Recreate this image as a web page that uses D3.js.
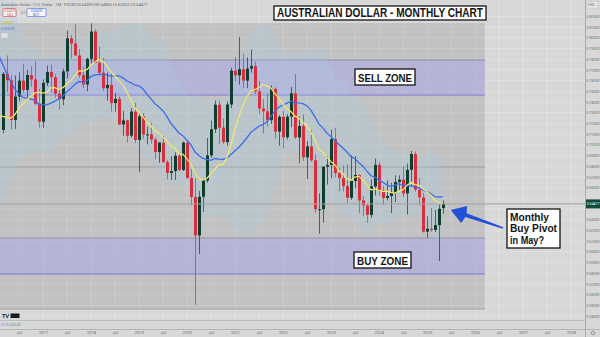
<!DOCTYPE html>
<html>
<head>
<meta charset="utf-8">
<script src="https://cdn.jsdelivr.net/npm/d3@7"></script>
<style>
  html, body { margin: 0; padding: 0; background: #d8d8d8; }
  svg { display: block; font-family: "Open Sans", sans-serif; }
</style>
</head>
<body>
<div id="chart"></div>
<script>
// AUD/USD monthly candles, Mar 2016 .. May 2025
const firstMonth = '2016-03';
const opens = [
  .7139,.7663,.7603,.7232,.7451,.7600,.7513,.7652,.7611,.7383,
  .7216,.7578,.7680,.7632,.7478,.7426,.7686,.7995,.7947,.7835,.7652,.7564,
  .7803,.8058,.7766,.7674,.7529,.7560,.7390,.7430,.7190,.7228,.7085,.7310,
  .7045,.7267,.7096,.7098,.7050,.6932,.7021,.6838,.6737,.6754,.6898,.6764,
  .7021,.6690,.6512,.6153,.6514,.6667,.6901,.7146,.7375,.7160,.7025,.7377,
  .7693,.7649,.7707,.7600,.7712,.7735,.7500,.7340,.7313,.7230,.7523,.7123,
  .7262,.7071,.7263,.7482,.7069,.7176,.6883,.6985,.6855,.6398,.6398,.6795,
  .6812,.7053,.6735,.6689,.6614,.6505,.6662,.6718,.6481,.6433,.6345,.6611,
  .6812,.6571,.6503,.6521,.6548,.6653,.6674,.6545,.6766,.6914,.6581,.6509,
  .6188,.6215,.6205,.6249,.6409
];
const highs = [
  .7681,.7835,.7651,.7648,.7677,.7758,.7700,.7734,.7778,.7523,
  .7612,.7741,.7749,.7660,.7517,.7712,.8066,.8028,.8125,.7897,.7730,.7814,
  .8136,.8077,.7917,.7813,.7676,.7678,.7484,.7453,.7316,.7236,.7342,.7393,
  .7296,.7296,.7169,.7207,.7069,.7024,.7082,.6862,.6895,.6930,.6929,.7032,
  .7031,.6774,.6686,.6570,.6683,.7064,.7226,.7414,.7413,.7243,.7405,.7720,
  .7820,.8007,.7849,.7818,.7891,.7776,.7599,.7427,.7478,.7556,.7536,.7277,
  .7314,.7285,.7540,.7661,.7266,.7283,.7034,.7137,.6916,.6547,.6800,.6893,
  .7142,.7158,.6783,.6806,.6818,.6900,.6895,.6724,.6522,.6445,.6676,.6871,
  .6838,.6615,.6667,.6645,.6714,.6714,.6798,.6824,.6942,.6937,.6688,.6549,
  .6331,.6409,.6391,.6439,.6481
];
const lows = [
  .7106,.7490,.7145,.7148,.7404,.7487,.7441,.7544,.7370,.7160,
  .7160,.7550,.7491,.7441,.7329,.7371,.7620,.7808,.7829,.7625,.7533,.7500,
  .7761,.7760,.7644,.7502,.7412,.7311,.7310,.7186,.7085,.7020,.7064,.7016,
  .6744,.7055,.7003,.7011,.6865,.6832,.6832,.6677,.6671,.6671,.6755,.6755,
  .6683,.6434,.5506,.5980,.6372,.6648,.6880,.7111,.7006,.7006,.6991,.7343,
  .7592,.7563,.7531,.7530,.7675,.7477,.7289,.7106,.7170,.7194,.7062,.6993,
  .6968,.7050,.7165,.7055,.6829,.6850,.6681,.6840,.6364,.6170,.6272,.6629,
  .6688,.6697,.6564,.6564,.6458,.6485,.6595,.6364,.6331,.6270,.6319,.6526,
  .6525,.6442,.6478,.6362,.6465,.6575,.6512,.6349,.6622,.6562,.6434,.6180,
  .6130,.6187,.6186,.5914,.6355
];
const closes = [
  .7663,.7603,.7232,.7451,.7600,.7513,.7652,.7611,.7383,.7216,
  .7578,.7680,.7632,.7478,.7426,.7686,.7995,.7947,.7835,.7652,.7564,.7803,
  .8058,.7766,.7674,.7529,.7560,.7390,.7430,.7190,.7228,.7085,.7310,.7045,
  .7267,.7096,.7098,.7050,.6932,.7021,.6838,.6737,.6754,.6898,.6764,.7021,
  .6690,.6512,.6153,.6514,.6667,.6901,.7146,.7375,.7160,.7025,.7377,.7693,
  .7649,.7707,.7600,.7712,.7735,.7500,.7340,.7313,.7230,.7523,.7123,.7262,
  .7071,.7263,.7482,.7069,.7176,.6883,.6985,.6855,.6398,.6398,.6795,.6812,
  .7053,.6735,.6689,.6614,.6505,.6662,.6718,.6481,.6433,.6345,.6611,.6812,
  .6571,.6503,.6521,.6548,.6653,.6674,.6545,.6766,.6914,.6581,.6509,.6188,
  .6215,.6205,.6249,.6402,.6448
];
// closes Jul 2014 .. Feb 2016, only used to warm up the averages
const priorCloses = [
  .9290,.9335,.8746,.8793,.8508,.8185,.7774,.7813,.7613,.7931,
  .7654,.7710,.7306,.7108,.7018,.7132,.7233,.7286,.7068,.7139
];

// drawn levels
const sellZone = [0.7465, 0.7793];
const buyZone = [0.5793, 0.6129];
const grayBox = [0.5465, 0.8138];
const levelLine = 0.6793;
const lastPrice = 0.64477;
const priceTicks = d3.range(54, 83).map(v => v / 100);

const W = 600, H = 337;
const paneR = 585, paneB = 320, axisT = 329;

const svg = d3.select('#chart').append('svg').attr('width', W).attr('height', H);

const parseMonth = d3.utcParse('%Y-%m');
const start = parseMonth(firstMonth);
const candles = opens.map((o, i) => ({
  date: d3.utcMonth.offset(start, i), o: o, h: highs[i], l: lows[i], c: closes[i]
}));

const x = d3.scaleUtc()
  .domain([parseMonth('2017-01'), parseMonth('2028-01')])
  .range([43, 571]);
const y = d3.scaleLinear().domain([0.54, 0.82]).range([316, 16.4]);

// backgrounds
svg.append('rect').attr('width', W).attr('height', H).attr('fill', '#d8d8d8');
svg.append('clipPath').attr('id', 'pane').append('rect').attr('width', paneR).attr('height', paneB);

const pane = svg.append('g').attr('clip-path', 'url(#pane)');

// grid
const timeTicks = d3.utcMonth.every(6).range(parseMonth('2016-07'), parseMonth('2028-02'));
pane.selectAll('.vgrid').data(timeTicks).enter().append('line')
  .attr('x1', d => x(d)).attr('x2', d => x(d)).attr('y1', 0).attr('y2', paneB)
  .attr('stroke', '#ffffff').attr('stroke-opacity', 0.22);
pane.selectAll('.hgrid').data(priceTicks).enter().append('line')
  .attr('x1', 0).attr('x2', paneR).attr('y1', d => y(d)).attr('y2', d => y(d))
  .attr('stroke', '#ffffff').attr('stroke-opacity', 0.22);

// gray highlight box and zones
const boxRight = x(parseMonth('2026-03')) + 2;
pane.append('rect').attr('x', -2).attr('y', y(grayBox[1])).attr('width', boxRight + 2)
  .attr('height', y(grayBox[0]) - y(grayBox[1])).attr('fill', '#6e6e6e').attr('fill-opacity', 0.2);
pane.append('line').attr('x1', 0).attr('x2', boxRight).attr('y1', y(grayBox[0])).attr('y2', y(grayBox[0]))
  .attr('stroke', '#a2a2a2').attr('stroke-width', 1);

[sellZone, buyZone].forEach(function(z, k) {
  pane.append('rect').attr('x', -2).attr('y', y(z[1])).attr('width', boxRight + 2)
    .attr('height', y(z[0]) - y(z[1])).attr('fill', '#a9a4f0').attr('fill-opacity', 0.45);
  pane.append('line').attr('x1', 0).attr('x2', boxRight).attr('y1', y(z[1])).attr('y2', y(z[1]))
    .attr('stroke', k === 0 ? '#8d8ba6' : '#9896a8').attr('stroke-width', 1);
  pane.append('line').attr('x1', 0).attr('x2', boxRight).attr('y1', y(z[0])).attr('y2', y(z[0]))
    .attr('stroke', '#7d79d6').attr('stroke-width', 1);
});

pane.append('line').attr('x1', 0).attr('x2', boxRight).attr('y1', y(levelLine)).attr('y2', y(levelLine))
  .attr('stroke', '#9a9a9a').attr('stroke-width', 1);

// moving averages and bands from the closes
const allCloses = priorCloses.concat(closes);
const off = priorCloses.length;
function windowAt(n, i) { return allCloses.slice(i - n + 1, i + 1); }
const ind = d3.range(off - 1, allCloses.length).map(function(i) {
  const w20 = windowAt(20, i), m20 = d3.mean(w20);
  const sd = Math.sqrt(d3.mean(w20, v => (v - m20) * (v - m20)));
  return {
    date: d3.utcMonth.offset(start, i - off),
    ma10: d3.mean(windowAt(10, i)), ma20: m20,
    up: m20 + 2 * sd, lo: m20 - 2 * sd
  };
});

pane.append('path').datum(ind)
  .attr('d', d3.area().x(d => x(d.date)).y0(d => y(d.lo)).y1(d => y(d.up)))
  .attr('fill', '#a8cbe6').attr('fill-opacity', 0.26);

// price line
svg.append('line').attr('x1', 0).attr('x2', paneR).attr('y1', y(lastPrice)).attr('y2', y(lastPrice))
  .attr('stroke', '#a3a3a3').attr('stroke-width', 1);

// candles
const green = '#0f3d2e', red = '#d62f3f';
const cg = pane.selectAll('.candle').data(candles).enter().append('g');
cg.append('line')
  .attr('x1', d => Math.round(x(d.date)) + 0.5).attr('x2', d => Math.round(x(d.date)) + 0.5)
  .attr('y1', d => y(d.h)).attr('y2', d => y(d.l))
  .attr('stroke', d => d.c >= d.o ? green : red).attr('stroke-opacity', 0.7);
cg.append('rect')
  .attr('x', d => Math.round(x(d.date)) - 1).attr('width', 3)
  .attr('y', d => y(Math.max(d.o, d.c)))
  .attr('height', d => Math.max(1, Math.abs(y(d.o) - y(d.c))))
  .attr('fill', d => d.c >= d.o ? green : red);

pane.append('path').datum(ind)
  .attr('d', d3.line().x(d => x(d.date)).y(d => y(d.ma20)))
  .attr('fill', 'none').attr('stroke', '#3b6fe3').attr('stroke-width', 1.3);
pane.append('path').datum(ind)
  .attr('d', d3.line().x(d => x(d.date)).y(d => y(d.ma10)))
  .attr('fill', 'none').attr('stroke', '#f2e66a').attr('stroke-width', 1.3);

// pane separators
svg.append('line').attr('x1', paneR + 0.5).attr('x2', paneR + 0.5).attr('y1', 0).attr('y2', H)
  .attr('stroke', '#a9a9a9');
svg.append('line').attr('x1', 0).attr('x2', paneR).attr('y1', paneB + 0.5).attr('y2', paneB + 0.5)
  .attr('stroke', '#bdbdbd');
svg.append('line').attr('x1', 0).attr('x2', W).attr('y1', axisT + 0.5).attr('y2', axisT + 0.5)
  .attr('stroke', '#b5b5b5');

// price axis
const yAxis = d3.axisRight(y).tickValues(priceTicks.filter(v => Math.abs(y(v) - y(lastPrice)) > 7))
  .tickFormat(d3.format('.5f')).tickSize(0).tickPadding(1.5);
const ya = svg.append('g').attr('transform', 'translate(' + paneR + ',0)').call(yAxis);
ya.select('.domain').remove();
ya.selectAll('text').attr('font-size', 3.6).attr('fill', '#6f6f6f').attr('font-family', 'Roboto');

// time axis
const xAxis = d3.axisBottom(x).tickValues(timeTicks)
  .tickFormat(d => d.getUTCMonth() === 0 ? d3.utcFormat('%Y')(d) : 'Jul').tickSize(0).tickPadding(2);
const xa = svg.append('g').attr('transform', 'translate(0,' + (axisT + 0.5) + ')').call(xAxis);
xa.select('.domain').remove();
xa.selectAll('text').attr('font-size', 4.1).attr('fill', '#6f6f6f').attr('font-family', 'Roboto');

// last price tag
svg.append('rect').attr('x', paneR + 1).attr('y', y(lastPrice) - 4.5).attr('width', 14).attr('height', 9)
  .attr('fill', '#0f4a37');
svg.append('text').attr('x', paneR + 1.8).attr('y', y(lastPrice) + 1.4).text(d3.format('.5f')(lastPrice))
  .attr('font-size', 3.5).attr('fill', '#fff').attr('font-family', 'Roboto');
svg.append('rect').attr('x', paneR + 2).attr('y', 2).attr('width', 11).attr('height', 6)
  .attr('fill', '#ececec').attr('stroke', '#bbb').attr('stroke-width', 0.5);
svg.append('text').attr('x', paneR + 3).attr('y', 6.3).text('USD ⌄')
  .attr('font-size', 3.4).attr('fill', '#555').attr('font-family', 'Roboto');
svg.append('circle').attr('cx', 593).attr('cy', 333).attr('r', 1.8)
  .attr('fill', 'none').attr('stroke', '#777').attr('stroke-width', 0.7);

// legend (top left)
svg.append('text').attr('x', 1).attr('y', 5.5)
  .text('Australian Dollar / U.S. Dollar · 1M · FXCM   O0.64093 H0.64806 L0.63552 C0.64477')
  .attr('font-size', 4).attr('fill', '#6a6a6a').attr('font-family', 'Roboto');
svg.append('rect').attr('x', 3).attr('y', 8.5).attr('width', 13).attr('height', 8)
  .attr('fill', '#f3f3f3').attr('stroke', '#e05260').attr('stroke-width', 0.7).attr('rx', 1);
svg.append('rect').attr('x', 27).attr('y', 8.5).attr('width', 19).attr('height', 8)
  .attr('fill', '#f3f3f3').attr('stroke', '#5b7fe0').attr('stroke-width', 0.7).attr('rx', 1);
svg.append('text').attr('x', 4.5).attr('y', 12).text('0.64477').attr('font-size', 3).attr('fill', '#d33');
svg.append('text').attr('x', 7).attr('y', 15.5).text('SELL').attr('font-size', 3).attr('fill', '#d33');
svg.append('text').attr('x', 21).attr('y', 13.5).text('0.1').attr('font-size', 3.4).attr('fill', '#666');
svg.append('text').attr('x', 31).attr('y', 12).text('0.64478').attr('font-size', 3).attr('fill', '#35c');
svg.append('text').attr('x', 33).attr('y', 15.5).text('BUY').attr('font-size', 3).attr('fill', '#35c');
svg.append('text').attr('x', 1).attr('y', 23.5).text('0.64481').attr('font-size', 3.6).attr('fill', '#c9b800');
svg.append('text').attr('x', 1).attr('y', 30).text('0.65078').attr('font-size', 3.6).attr('fill', '#3b6fe3');
svg.append('rect').attr('x', 15).attr('y', 26).attr('width', 28).attr('height', 5)
  .attr('fill', 'none').attr('stroke', '#bcbcbc').attr('stroke-width', 0.5);
svg.append('rect').attr('x', 1).attr('y', 33).attr('width', 7).attr('height', 5)
  .attr('fill', '#e2e2e2').attr('stroke', '#bbb').attr('stroke-width', 0.5);

// TV logo and lower pane legend
svg.append('text').attr('x', 2).attr('y', 318).text('TV').attr('font-size', 5.5)
  .attr('font-weight', 900).attr('fill', '#1b1b1b').attr('font-family', 'Lato');
svg.append('rect').attr('x', 10.5).attr('y', 313.5).attr('width', 9).attr('height', 4.5).attr('fill', '#1b1b1b');
svg.append('text').attr('x', 1).attr('y', 326).text('47.83').attr('font-size', 3.8).attr('fill', '#8a7cc8');
svg.append('text').attr('x', 11).attr('y', 326).text('49.26').attr('font-size', 3.8).attr('fill', '#3c9a6a');

// labels with boxes
function boxLabel(bx, by, bw, bh, lines, fs) {
  svg.append('rect').attr('x', bx).attr('y', by).attr('width', bw).attr('height', bh)
    .attr('fill', '#ffffff').attr('stroke', '#111').attr('stroke-width', 1.3);
  lines.forEach(function(t) {
    svg.append('text').attr('x', t.x).attr('y', t.y).text(t.s)
      .attr('font-size', fs).attr('font-weight', 600).attr('fill', '#141414')
      .attr('font-family', '"Liberation Sans", Arial, sans-serif')
      .attr('textLength', t.w).attr('lengthAdjust', 'spacingAndGlyphs');
  });
}
boxLabel(274, 6, 212, 14, [{ s: 'AUSTRALIAN DOLLAR - MONTHLY CHART', x: 277, y: 17.4, w: 206 }], 12);
boxLabel(355, 69, 60, 16, [{ s: 'SELL ZONE', x: 358, y: 81.6, w: 54 }], 11.5);
boxLabel(354, 252, 57, 16, [{ s: 'BUY ZONE', x: 357, y: 264.6, w: 51 }], 11.5);
boxLabel(507, 209, 53, 39, [
  { s: 'Monthly', x: 510, y: 220.5, w: 39 },
  { s: 'Buy Pivot', x: 510, y: 232, w: 47 },
  { s: 'in May?', x: 510, y: 243.5, w: 34 }
], 10.2);

// arrow to the last candle
const tip = [x(candles[candles.length - 1].date) + 8, 210], tail = [503, 228];
const dx = tip[0] - tail[0], dy = tip[1] - tail[1], len = Math.hypot(dx, dy);
const ux = dx / len, uy = dy / len, nx = -uy, ny = ux;
const bxp = tip[0] - ux * 16, byp = tip[1] - uy * 16;
const pts = [
  tip,
  [bxp + nx * 9 + ux * 2, byp + ny * 9 + uy * 2],
  [bxp + nx * 2, byp + ny * 2],
  [tail[0] + nx * 0.8, tail[1] + ny * 0.8],
  [tail[0] - nx * 0.8, tail[1] - ny * 0.8],
  [bxp - nx * 2, byp - ny * 2],
  [bxp - nx * 9 + ux * 2, byp - ny * 9 + uy * 2]
];
svg.append('polygon').attr('points', pts.map(p => p.join(',')).join(' ')).attr('fill', '#2250d8');
</script>
</body>
</html>
